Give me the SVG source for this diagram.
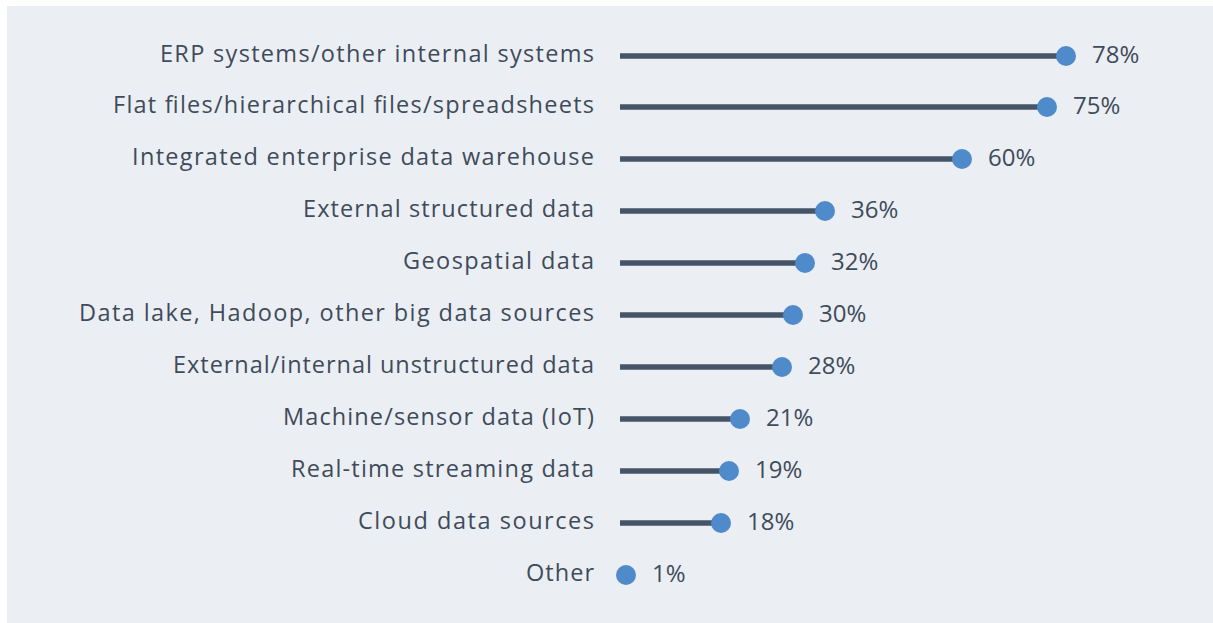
<svg xmlns="http://www.w3.org/2000/svg" width="1213" height="623" viewBox="0 0 1213 623">
<style>
.lbl{font-family:"Open Sans","Liberation Sans",sans-serif;font-size:23.5px;fill:#3f4b5b;text-anchor:end}
.val{font-family:"Open Sans","Liberation Sans",sans-serif;font-size:24px;fill:#3f4b5b}
.bar{stroke:#455467;stroke-width:5.5}
.dot{fill:#4f8bcb}
</style>
<rect x="0" y="0" width="1213" height="623" fill="#ffffff"/>
<rect x="7" y="6" width="1206" height="617" fill="#ebeff3"/>
<g id="connectors">
<line class="bar" x1="620" y1="56" x2="1066" y2="56"/>
<line class="bar" x1="620" y1="107" x2="1047" y2="107"/>
<line class="bar" x1="620" y1="159" x2="962" y2="159"/>
<line class="bar" x1="620" y1="211" x2="825" y2="211"/>
<line class="bar" x1="620" y1="263" x2="805" y2="263"/>
<line class="bar" x1="620" y1="315" x2="793" y2="315"/>
<line class="bar" x1="620" y1="367" x2="782" y2="367"/>
<line class="bar" x1="620" y1="419" x2="740" y2="419"/>
<line class="bar" x1="620" y1="471" x2="729" y2="471"/>
<line class="bar" x1="620" y1="523" x2="721" y2="523"/>
</g>
<g id="r1"><text class="lbl" x="594" y="62" textLength="434">ERP systems/other internal systems</text><circle class="dot" cx="1066" cy="56" r="10"/><text class="val" x="1092" y="63">78%</text></g>
<g id="r2"><text class="lbl" x="594" y="113" textLength="481">Flat files/hierarchical files/spreadsheets</text><circle class="dot" cx="1047" cy="107" r="10"/><text class="val" x="1073" y="114">75%</text></g>
<g id="r3"><text class="lbl" x="594" y="165" textLength="462">Integrated enterprise data warehouse</text><circle class="dot" cx="962" cy="159" r="10"/><text class="val" x="988" y="166">60%</text></g>
<g id="r4"><text class="lbl" x="594" y="217" textLength="291">External structured data</text><circle class="dot" cx="825" cy="211" r="10"/><text class="val" x="851" y="218">36%</text></g>
<g id="r5"><text class="lbl" x="594" y="269" textLength="191">Geospatial data</text><circle class="dot" cx="805" cy="263" r="10"/><text class="val" x="831" y="270">32%</text></g>
<g id="r6"><text class="lbl" x="594" y="321" textLength="515">Data lake, Hadoop, other big data sources</text><circle class="dot" cx="793" cy="315" r="10"/><text class="val" x="819" y="322">30%</text></g>
<g id="r7"><text class="lbl" x="594" y="373" textLength="421">External/internal unstructured data</text><circle class="dot" cx="782" cy="367" r="10"/><text class="val" x="808" y="374">28%</text></g>
<g id="r8"><text class="lbl" x="594" y="425" textLength="311">Machine/sensor data (IoT)</text><circle class="dot" cx="740" cy="419" r="10"/><text class="val" x="766" y="426">21%</text></g>
<g id="r9"><text class="lbl" x="594" y="477" textLength="303">Real-time streaming data</text><circle class="dot" cx="729" cy="471" r="10"/><text class="val" x="755" y="478">19%</text></g>
<g id="r10"><text class="lbl" x="594" y="529" textLength="236">Cloud data sources</text><circle class="dot" cx="721" cy="523" r="10"/><text class="val" x="747" y="530">18%</text></g>
<g id="r11"><text class="lbl" x="594" y="581" textLength="68">Other</text><circle class="dot" cx="626" cy="575" r="10"/><text class="val" x="652" y="582">1%</text></g>
</svg>
